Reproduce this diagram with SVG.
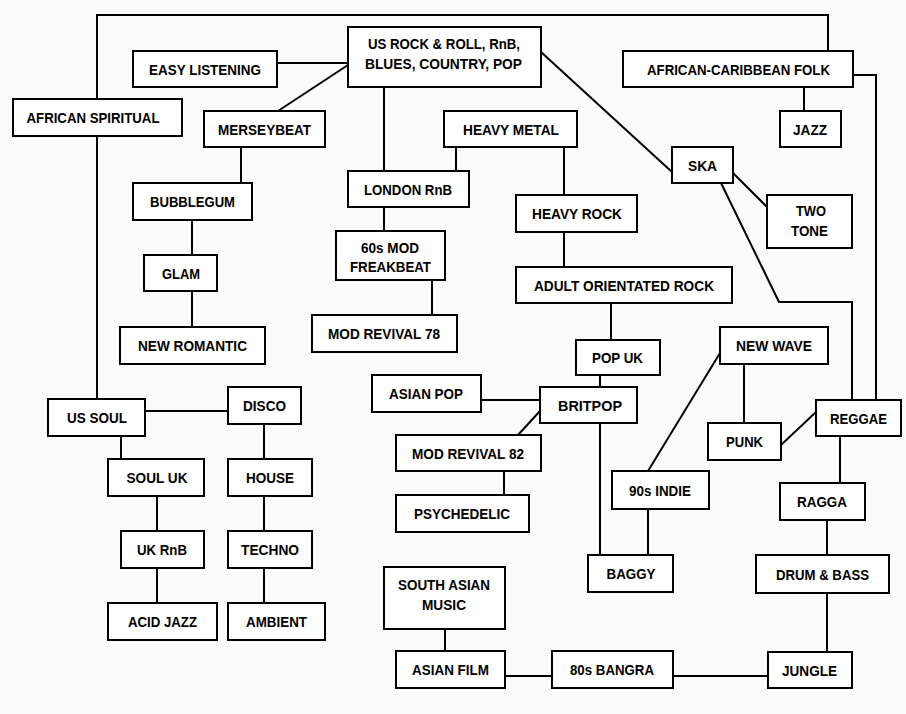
<svg xmlns="http://www.w3.org/2000/svg" width="906" height="714" viewBox="0 0 906 714">
<style>
.b{fill:#fff;stroke:#000;stroke-width:2}
.c{fill:none;stroke:#000;stroke-width:2}
text{font-family:"Liberation Sans",Arial,sans-serif;font-size:15px;font-weight:bold;text-anchor:middle;fill:#000}
</style>
<rect width="906" height="714" fill="#fbfbfb"/>
<g id="connectors">
<polyline class="c" points="97,99 97,15 828,15 828,51"/>
<line class="c" x1="97" y1="136" x2="97" y2="399"/>
<line class="c" x1="277" y1="63" x2="348" y2="63"/>
<line class="c" x1="278" y1="111" x2="348" y2="65"/>
<line class="c" x1="241" y1="147" x2="241" y2="183"/>
<line class="c" x1="192" y1="220" x2="192" y2="255"/>
<line class="c" x1="192" y1="291" x2="192" y2="327"/>
<line class="c" x1="384" y1="87" x2="384" y2="171"/>
<line class="c" x1="456" y1="147" x2="456" y2="171"/>
<line class="c" x1="564" y1="147" x2="564" y2="195"/>
<line class="c" x1="384" y1="207" x2="384" y2="231"/>
<line class="c" x1="432" y1="280" x2="432" y2="315"/>
<line class="c" x1="564" y1="232" x2="564" y2="267"/>
<line class="c" x1="611" y1="303" x2="611" y2="340"/>
<line class="c" x1="600" y1="375" x2="600" y2="387"/>
<line class="c" x1="481" y1="400" x2="540" y2="400"/>
<line class="c" x1="540" y1="411" x2="518" y2="435"/>
<line class="c" x1="600" y1="423" x2="600" y2="555"/>
<line class="c" x1="504" y1="471" x2="504" y2="495"/>
<line class="c" x1="541" y1="52" x2="672" y2="172"/>
<polyline class="c" points="853,75 876,75 876,400"/>
<line class="c" x1="804" y1="87" x2="804" y2="111"/>
<line class="c" x1="733" y1="173" x2="767" y2="207"/>
<polyline class="c" points="721,183 779,302 852,302 852,400"/>
<line class="c" x1="744" y1="364" x2="744" y2="423"/>
<line class="c" x1="781" y1="445" x2="816" y2="412"/>
<line class="c" x1="720" y1="353" x2="648" y2="471"/>
<line class="c" x1="648" y1="509" x2="648" y2="555"/>
<line class="c" x1="840" y1="436" x2="840" y2="483"/>
<line class="c" x1="827" y1="520" x2="827" y2="555"/>
<line class="c" x1="827" y1="593" x2="827" y2="652"/>
<line class="c" x1="145" y1="411" x2="228" y2="411"/>
<line class="c" x1="121" y1="436" x2="121" y2="459"/>
<line class="c" x1="264" y1="424" x2="264" y2="459"/>
<line class="c" x1="264" y1="496" x2="264" y2="531"/>
<line class="c" x1="264" y1="568" x2="264" y2="603"/>
<line class="c" x1="157" y1="496" x2="157" y2="531"/>
<line class="c" x1="157" y1="568" x2="157" y2="603"/>
<line class="c" x1="445" y1="629" x2="445" y2="651"/>
<line class="c" x1="505" y1="676" x2="552" y2="676"/>
<line class="c" x1="673" y1="676" x2="768" y2="676"/>
</g>
<g id="easy-listening"><rect class="b" x="133" y="51" width="144" height="36"/><text x="205" y="74.5" textLength="112" lengthAdjust="spacingAndGlyphs">EASY LISTENING</text></g>
<g id="african-spiritual"><rect class="b" x="13" y="99" width="169" height="37"/><text x="93" y="123" textLength="133" lengthAdjust="spacingAndGlyphs">AFRICAN SPIRITUAL</text></g>
<g id="us-rock"><rect class="b" x="348" y="27" width="193" height="60"/><text x="444" y="48.5" textLength="152" lengthAdjust="spacingAndGlyphs">US ROCK &amp; ROLL, RnB,</text><text x="443.5" y="68.5" textLength="157" lengthAdjust="spacingAndGlyphs">BLUES, COUNTRY, POP</text></g>
<g id="merseybeat"><rect class="b" x="204" y="111" width="121" height="36"/><text x="264.5" y="134.5" textLength="93" lengthAdjust="spacingAndGlyphs">MERSEYBEAT</text></g>
<g id="heavy-metal"><rect class="b" x="444" y="111" width="133" height="36"/><text x="511" y="134.5" textLength="96" lengthAdjust="spacingAndGlyphs">HEAVY METAL</text></g>
<g id="african-caribbean-folk"><rect class="b" x="623" y="51" width="230" height="36"/><text x="738.5" y="74.5" textLength="183" lengthAdjust="spacingAndGlyphs">AFRICAN-CARIBBEAN FOLK</text></g>
<g id="jazz"><rect class="b" x="780" y="111" width="61" height="36"/><text x="810" y="134.5" textLength="34" lengthAdjust="spacingAndGlyphs">JAZZ</text></g>
<g id="ska"><rect class="b" x="672" y="147" width="61" height="36"/><text x="702.5" y="170.5" textLength="29" lengthAdjust="spacingAndGlyphs">SKA</text></g>
<g id="two-tone"><rect class="b" x="767" y="195" width="85" height="53"/><text x="811" y="215.5" textLength="30" lengthAdjust="spacingAndGlyphs">TWO</text><text x="809.5" y="235.5" textLength="37" lengthAdjust="spacingAndGlyphs">TONE</text></g>
<g id="bubblegum"><rect class="b" x="133" y="183" width="119" height="37"/><text x="192.5" y="207" textLength="85" lengthAdjust="spacingAndGlyphs">BUBBLEGUM</text></g>
<g id="london-rnb"><rect class="b" x="348" y="171" width="121" height="36"/><text x="408" y="194.5" textLength="88" lengthAdjust="spacingAndGlyphs">LONDON RnB</text></g>
<g id="heavy-rock"><rect class="b" x="516" y="195" width="121" height="37"/><text x="577" y="219" textLength="90" lengthAdjust="spacingAndGlyphs">HEAVY ROCK</text></g>
<g id="sixties-mod"><rect class="b" x="336" y="231" width="109" height="49"/><text x="390" y="252.5" textLength="58" lengthAdjust="spacingAndGlyphs">60s MOD</text><text x="390.5" y="271.5" textLength="81" lengthAdjust="spacingAndGlyphs">FREAKBEAT</text></g>
<g id="glam"><rect class="b" x="144" y="255" width="73" height="36"/><text x="181" y="278.5" textLength="38" lengthAdjust="spacingAndGlyphs">GLAM</text></g>
<g id="adult-orientated-rock"><rect class="b" x="516" y="267" width="216" height="36"/><text x="624" y="290.5" textLength="180" lengthAdjust="spacingAndGlyphs">ADULT ORIENTATED ROCK</text></g>
<g id="mod-revival-78"><rect class="b" x="312" y="315" width="145" height="37"/><text x="384" y="339" textLength="112" lengthAdjust="spacingAndGlyphs">MOD REVIVAL 78</text></g>
<g id="new-romantic"><rect class="b" x="120" y="327" width="145" height="37"/><text x="192.5" y="351" textLength="109" lengthAdjust="spacingAndGlyphs">NEW ROMANTIC</text></g>
<g id="new-wave"><rect class="b" x="720" y="327" width="108" height="37"/><text x="774" y="351" textLength="76" lengthAdjust="spacingAndGlyphs">NEW WAVE</text></g>
<g id="pop-uk"><rect class="b" x="576" y="340" width="84" height="35"/><text x="617.5" y="363" textLength="51" lengthAdjust="spacingAndGlyphs">POP UK</text></g>
<g id="asian-pop"><rect class="b" x="372" y="375" width="109" height="37"/><text x="426" y="399" textLength="74" lengthAdjust="spacingAndGlyphs">ASIAN POP</text></g>
<g id="britpop"><rect class="b" x="540" y="387" width="97" height="36"/><text x="590" y="410.5" textLength="64" lengthAdjust="spacingAndGlyphs">BRITPOP</text></g>
<g id="us-soul"><rect class="b" x="48" y="399" width="97" height="37"/><text x="97" y="423" textLength="60" lengthAdjust="spacingAndGlyphs">US SOUL</text></g>
<g id="disco"><rect class="b" x="228" y="387" width="73" height="37"/><text x="264.5" y="411" textLength="43" lengthAdjust="spacingAndGlyphs">DISCO</text></g>
<g id="reggae"><rect class="b" x="816" y="400" width="85" height="36"/><text x="858.5" y="423.5" textLength="57" lengthAdjust="spacingAndGlyphs">REGGAE</text></g>
<g id="punk"><rect class="b" x="708" y="423" width="73" height="37"/><text x="744.5" y="447" textLength="37" lengthAdjust="spacingAndGlyphs">PUNK</text></g>
<g id="mod-revival-82"><rect class="b" x="396" y="435" width="145" height="36"/><text x="468" y="458.5" textLength="112" lengthAdjust="spacingAndGlyphs">MOD REVIVAL 82</text></g>
<g id="soul-uk"><rect class="b" x="108" y="459" width="96" height="37"/><text x="157" y="483" textLength="61" lengthAdjust="spacingAndGlyphs">SOUL UK</text></g>
<g id="house"><rect class="b" x="228" y="459" width="84" height="37"/><text x="270" y="483" textLength="48" lengthAdjust="spacingAndGlyphs">HOUSE</text></g>
<g id="nineties-indie"><rect class="b" x="612" y="471" width="97" height="38"/><text x="660" y="495.5" textLength="62" lengthAdjust="spacingAndGlyphs">90s INDIE</text></g>
<g id="ragga"><rect class="b" x="780" y="483" width="85" height="37"/><text x="822" y="507" textLength="50" lengthAdjust="spacingAndGlyphs">RAGGA</text></g>
<g id="psychedelic"><rect class="b" x="396" y="495" width="133" height="37"/><text x="462" y="519" textLength="96" lengthAdjust="spacingAndGlyphs">PSYCHEDELIC</text></g>
<g id="uk-rnb"><rect class="b" x="121" y="531" width="83" height="37"/><text x="162" y="555" textLength="50" lengthAdjust="spacingAndGlyphs">UK RnB</text></g>
<g id="techno"><rect class="b" x="228" y="531" width="84" height="37"/><text x="270" y="555" textLength="58" lengthAdjust="spacingAndGlyphs">TECHNO</text></g>
<g id="baggy"><rect class="b" x="588" y="555" width="85" height="37"/><text x="631" y="579" textLength="49" lengthAdjust="spacingAndGlyphs">BAGGY</text></g>
<g id="drum-and-bass"><rect class="b" x="756" y="555" width="133" height="38"/><text x="822.5" y="579.5" textLength="93" lengthAdjust="spacingAndGlyphs">DRUM &amp; BASS</text></g>
<g id="south-asian-music"><rect class="b" x="384" y="567" width="121" height="62"/><text x="444" y="589.5" textLength="92" lengthAdjust="spacingAndGlyphs">SOUTH ASIAN</text><text x="444" y="609.5" textLength="44" lengthAdjust="spacingAndGlyphs">MUSIC</text></g>
<g id="acid-jazz"><rect class="b" x="108" y="603" width="109" height="37"/><text x="162.5" y="627" textLength="69" lengthAdjust="spacingAndGlyphs">ACID JAZZ</text></g>
<g id="ambient"><rect class="b" x="228" y="603" width="97" height="37"/><text x="276.5" y="627" textLength="61" lengthAdjust="spacingAndGlyphs">AMBIENT</text></g>
<g id="asian-film"><rect class="b" x="396" y="651" width="109" height="37"/><text x="450.5" y="675" textLength="77" lengthAdjust="spacingAndGlyphs">ASIAN FILM</text></g>
<g id="eighties-bangra"><rect class="b" x="552" y="651" width="121" height="37"/><text x="612" y="675" textLength="84" lengthAdjust="spacingAndGlyphs">80s BANGRA</text></g>
<g id="jungle"><rect class="b" x="768" y="652" width="84" height="36"/><text x="809.5" y="675.5" textLength="55" lengthAdjust="spacingAndGlyphs">JUNGLE</text></g>
</svg>
